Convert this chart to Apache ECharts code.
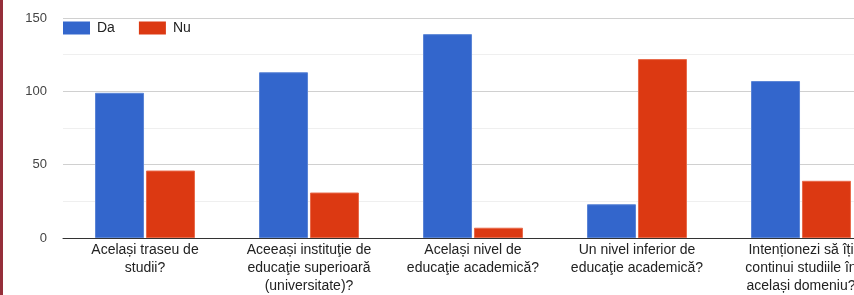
<!DOCTYPE html>
<html>
<head>
<meta charset="utf-8">
<script src="https://cdn.jsdelivr.net/npm/echarts@6/dist/echarts.min.js"></script>
<style>
  html, body { margin: 0; padding: 0; background: #fff; overflow: hidden; }
  #wrap { position: relative; width: 854px; height: 295px; overflow: hidden; }
  #side { position: absolute; left: 0; top: 0; width: 3px; height: 295px; background: #952f3a; z-index: 2; }
  #chart { width: 900px; height: 295px; }
</style>
</head>
<body>
<div id="wrap">
  <div id="side"></div>
  <div id="chart"></div>
</div>
<script>
var categories = [
    'Același traseu de\nstudii?',
    'Aceeași instituţie de\neducaţie superioară\n(universitate)?',
    'Același nivel de\neducaţie academică?',
    'Un nivel inferior de\neducaţie academică?',
    'Intenționezi să îți\ncontinui studiile în\nacelași domeniu?'
];
var daValues = [99, 113, 139, 23, 107];
var nuValues = [46, 31, 7, 122, 39];
var yTicks = [0, 50, 100, 150];

var myChart = echarts.init(document.getElementById('chart'));

var option = {
    animation: false,
    textStyle: { fontFamily: 'Liberation Sans, Arial, sans-serif' },
    legend: {
        left: 58,
        top: 16,
        itemWidth: 27,
        itemHeight: 13,
        itemGap: 24,
        icon: 'rect',
        itemStyle: { borderWidth: 0 },
        textStyle: { fontSize: 14, color: '#222', padding: [0, 0, 0, 2] },
        data: ['Da', 'Nu']
    },
    grid: { left: 63, top: 18, width: 820, height: 220 },
    xAxis: {
        type: 'category',
        data: categories,
        axisTick: { show: false },
        axisLine: { lineStyle: { color: '#333', width: 1 } },
        axisLabel: { interval: 0, fontSize: 14, color: '#222', lineHeight: 18, margin: 3 }
    },
    yAxis: {
        type: 'value',
        min: yTicks[0],
        max: yTicks[yTicks.length - 1],
        interval: 50,
        axisLine: { show: false },
        axisTick: { show: false },
        axisLabel: { fontSize: 13, color: '#444', margin: 16 },
        splitLine: { lineStyle: { color: '#d0d0d0', width: 1 } },
        minorTick: { show: false, splitNumber: 2 },
        minorSplitLine: { show: true, lineStyle: { color: '#efefef', width: 1 } }
    },
    series: [
        {
            name: 'Da',
            type: 'bar',
            data: daValues,
            barWidth: 49,
            barGap: '4%',
            itemStyle: { color: '#3366cc', borderColor: '#5b85d6', borderWidth: 1 }
        },
        {
            name: 'Nu',
            type: 'bar',
            data: nuValues,
            barWidth: 49,
            barGap: '4%',
            itemStyle: { color: '#dc3912', borderColor: '#e86a4a', borderWidth: 1 }
        }
    ]
};

myChart.setOption(option);
</script>
</body>
</html>
